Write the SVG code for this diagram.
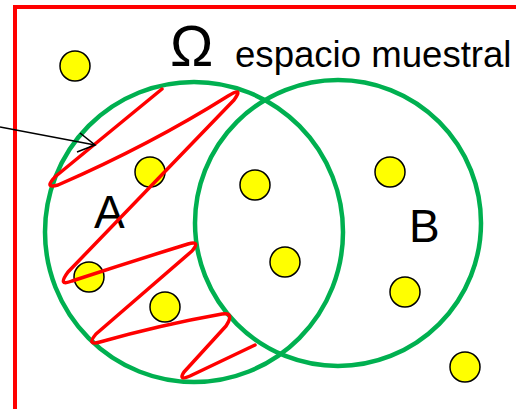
<svg xmlns="http://www.w3.org/2000/svg" width="516" height="409" viewBox="0 0 516 409">
  <style>
    .frame { fill: none; stroke: #FF0000; stroke-width: 4; }
    .set { fill: none; stroke: #00B050; stroke-width: 4.5; }
    .pt { fill: #FFFF00; stroke: #000000; stroke-width: 1.5; }
    .lbl { font-family: "Liberation Sans", Arial, sans-serif; fill: #000000; }
    .event { fill: none; stroke: #FF0000; stroke-width: 3.5; stroke-linejoin: round; stroke-linecap: round; }
    .pointer { fill: none; stroke: #000000; stroke-width: 1.6; }
  </style>

  <!-- sample space frame -->
  <g id="frame">
    <polyline class="frame" points="15,409 15,7 516,7"/>
  </g>

  <!-- sets A and B -->
  <g id="setA">
    <ellipse class="set" cx="194" cy="232" rx="149" ry="150"/>
    <text class="lbl" x="94" y="228" font-size="46">A</text>
  </g>
  <g id="setB">
    <ellipse class="set" cx="338" cy="223" rx="143" ry="143"/>
    <text class="lbl" x="409" y="242" font-size="46">B</text>
  </g>

  <!-- title -->
  <g id="title">
    <text class="lbl" x="170" y="66" font-size="58">Ω</text>
    <text class="lbl" x="235" y="67" font-size="36.6">espacio muestral</text>
  </g>

  <!-- sample points -->
  <g id="points">
    <circle class="pt" cx="75" cy="66" r="15"/>
    <circle class="pt" cx="150" cy="172" r="15"/>
    <circle class="pt" cx="255" cy="185" r="15"/>
    <circle class="pt" cx="390" cy="172" r="15"/>
    <circle class="pt" cx="89" cy="277" r="15"/>
    <circle class="pt" cx="165" cy="307" r="15"/>
    <circle class="pt" cx="285" cy="262" r="15"/>
    <circle class="pt" cx="405" cy="292" r="15"/>
    <circle class="pt" cx="465" cy="367" r="15"/>
  </g>

  <!-- zigzag event curve inside A -->
  <g id="event">
    <path class="event" d="M 162 89 L 56 176 Q 43 189 58 185 Q 150 145 228 96 Q 244 86 234 100 L 68 272 Q 57 287 72 281 Q 130 262 188 244 Q 201 240 192 251 L 96 334 Q 86 346 100 342 Q 160 325 222 314 Q 235 312 226 326 L 184 372 Q 178 381 190 376 L 255 345"/>
  </g>

  <!-- pointer arrow -->
  <g id="connectors">
    <line class="pointer" x1="0" y1="127" x2="95" y2="145"/>
    <polyline class="pointer" points="80,133 95,145 77,152"/>
  </g>
</svg>
